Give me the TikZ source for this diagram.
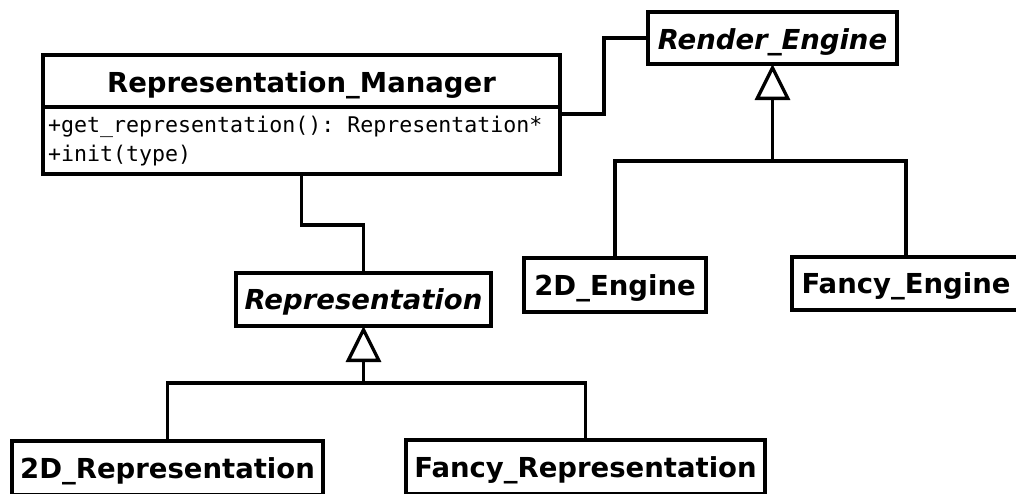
\documentclass[tikz,border=0pt]{standalone}
\usepackage{fontspec}
\setmainfont{DejaVu Sans}
\setmonofont{DejaVu Sans Mono}
\usetikzlibrary{arrows.meta,calc}

\tikzset{
  every picture/.style={x=1pt, y=-1pt},
  classbox/.style={draw, line width=3.3pt, fill=white, inner sep=0pt, outer sep=0pt,
    anchor=north west, text height=20pt, text depth=0pt,
    font=\fontsize{27.5}{30}\selectfont\bfseries},
  abstract/.style={classbox, font=\fontsize{27.5}{30}\selectfont\bfseries\itshape},
  optext/.style={anchor=base west, inner sep=0pt, font=\fontsize{21.6}{30}\selectfont\ttfamily},
  assoc/.style={line width=3.3pt},
  inherit/.style={line width=3.3pt,
    -{Triangle[open, length=36pt, width=35pt]}},
}

\begin{document}
\begin{tikzpicture}
  \useasboundingbox (0,0) rectangle (1016,493);
  \fill[white] (0,0) rectangle (1016,493);
  \clip (0,0) rectangle (1016,493);

  % Representation_Manager: name compartment and operations compartment
  \node[classbox, minimum width=517pt, minimum height=52pt, text height=22pt]
    (rmname) at (43,55) {Representation\_Manager};
  \node[classbox, minimum width=517pt, minimum height=67pt]
    (rmops) at (43,107) {};
  \node[optext] (op1) at (48,132) {+get\_representation(): Representation*};
  \node[optext] (op2) at (48,161.5) {+init(type)};

  % engine hierarchy
  \node[abstract, minimum width=249pt, minimum height=52pt, text height=22pt]
    (re) at (648,12) {Render\_Engine};
  \node[classbox, minimum width=182pt, minimum height=54pt]
    (e2d) at (524,258) {2D\_Engine};
  \node[classbox, minimum width=228pt, minimum height=53pt]
    (efancy) at (792,257) {Fancy\_Engine};

  % representation hierarchy
  \node[abstract, minimum width=255pt, minimum height=53pt]
    (rep) at (236,273) {Representation};
  \node[classbox, minimum width=311pt, minimum height=54pt]
    (r2d) at (12,441) {2D\_Representation};
  \node[classbox, minimum width=359pt, minimum height=54pt]
    (rfancy) at (406,440) {Fancy\_Representation};

  % associations
  \draw[assoc] ([yshift=-7pt]rmops.north east) -- ++(44,0) |- (re.west);
  \draw[assoc] (rmops.south) -- ++(0,51) -| (rep.north);

  % generalisations
  \coordinate (je) at ($(re.south)+(0,97)$);
  \draw[assoc] (e2d.north) |- (je) -| (efancy.north);
  \draw[inherit] (je) -- (re.south);

  \coordinate (jr) at ($(rep.south)+(0,57)$);
  \draw[assoc] (r2d.north) |- (jr) -| (rfancy.north);
  \draw[inherit] (jr) -- (rep.south);
\end{tikzpicture}
\end{document}
